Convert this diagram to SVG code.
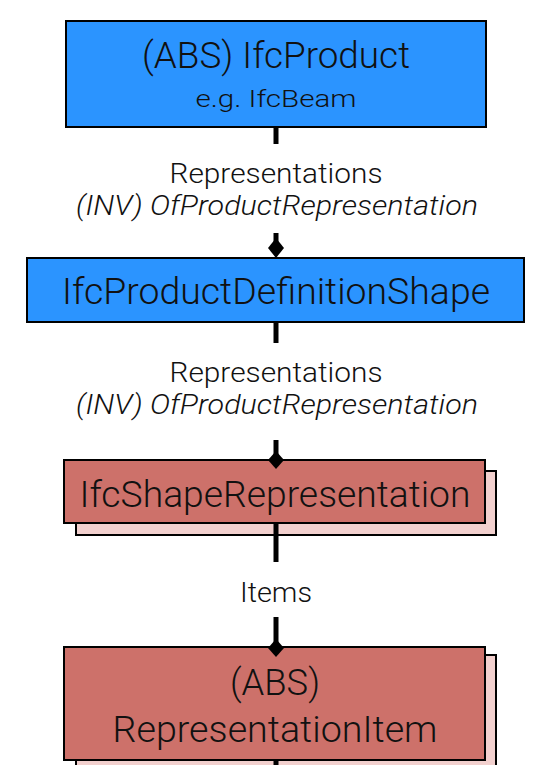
<svg xmlns="http://www.w3.org/2000/svg" width="541" height="765" viewBox="0 0 541 765">
  <style>
    .box { stroke: #000; stroke-width: 2; }
    .abstract { fill: #2b94ff; }
    .concrete { fill: #cd716a; }
    .shadow { fill: #f2d0ce; stroke: #000; stroke-width: 2; }
    .title { font-family: Roboto, "Liberation Sans", sans-serif; font-weight: 300; font-size: 37px; fill: #111; text-anchor: middle; }
    .sub { font-family: Roboto, "Liberation Sans", sans-serif; font-weight: 300; font-size: 24px; fill: #111; text-anchor: middle; }
    .label { font-family: Roboto, "Liberation Sans", sans-serif; font-weight: 300; font-size: 27px; fill: #111; text-anchor: middle; }
    .inv { font-style: italic; }
    .link { stroke: #000; stroke-width: 5; fill: none; }
    .diamond { fill: #000; }
  </style>

  <g id="IfcProduct">
    <rect class="box abstract" x="66" y="21" width="420" height="106"/>
    <text class="title" x="276" y="68" textLength="268" lengthAdjust="spacingAndGlyphs">(ABS) IfcProduct</text>
    <text class="sub" x="276" y="107" textLength="161" lengthAdjust="spacingAndGlyphs">e.g. IfcBeam</text>
  </g>

  <g id="IfcProductDefinitionShape">
    <rect class="box abstract" x="27" y="258" width="497" height="64"/>
    <text class="title" x="276" y="304" textLength="428" lengthAdjust="spacingAndGlyphs">IfcProductDefinitionShape</text>
  </g>

  <g id="IfcShapeRepresentation">
    <rect class="shadow" x="76" y="471" width="420" height="64"/>
    <rect class="box concrete" x="64" y="460" width="421" height="63"/>
    <text class="title" x="275" y="507" textLength="391" lengthAdjust="spacingAndGlyphs">IfcShapeRepresentation</text>
  </g>

  <g id="RepresentationItem">
    <rect class="shadow" x="76" y="655" width="420" height="130"/>
    <rect class="box concrete" x="64" y="647" width="421" height="113"/>
    <text class="title" x="275" y="695" textLength="90" lengthAdjust="spacingAndGlyphs">(ABS)</text>
    <text class="title" x="275" y="742" textLength="325" lengthAdjust="spacingAndGlyphs">RepresentationItem</text>
  </g>

  <g id="connectors">
    <!-- IfcProduct -> IfcProductDefinitionShape -->
    <line class="link" x1="276" y1="127" x2="276" y2="144"/>
    <line class="link" x1="276" y1="233" x2="276" y2="245"/>
    <path class="diamond" d="M276,238 L284,248 L276,258 L268,248 Z"/>
    <text class="label" x="276" y="183" textLength="213" lengthAdjust="spacingAndGlyphs">Representations</text>
    <text class="label inv" x="277" y="215" textLength="402" lengthAdjust="spacingAndGlyphs">(INV) OfProductRepresentation</text>

    <!-- IfcProductDefinitionShape -> IfcShapeRepresentation -->
    <line class="link" x1="276" y1="322" x2="276" y2="343"/>
    <line class="link" x1="276" y1="440" x2="276" y2="456"/>
    <path class="diamond" d="M276,451 L284,460 L276,469 L268,460 Z"/>
    <text class="label" x="276" y="382" textLength="213" lengthAdjust="spacingAndGlyphs">Representations</text>
    <text class="label inv" x="277" y="414" textLength="402" lengthAdjust="spacingAndGlyphs">(INV) OfProductRepresentation</text>

    <!-- IfcShapeRepresentation -> RepresentationItem -->
    <line class="link" x1="276" y1="523" x2="276" y2="562"/>
    <line class="link" x1="276" y1="617" x2="276" y2="643"/>
    <path class="diamond" d="M276,639 L284,648 L276,657 L268,648 Z"/>
    <text class="label" x="276" y="602" textLength="72" lengthAdjust="spacingAndGlyphs">Items</text>

    <!-- continuation below RepresentationItem -->
    <line class="link" x1="276" y1="760" x2="276" y2="766"/>
  </g>
</svg>
